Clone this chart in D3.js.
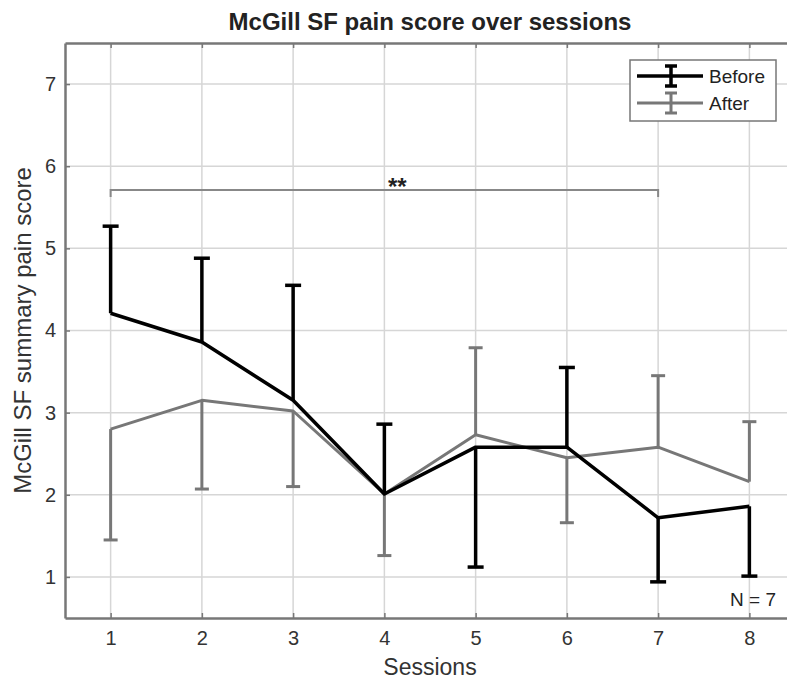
<!DOCTYPE html>
<html>
<head>
<meta charset="utf-8">
<script src="https://cdn.jsdelivr.net/npm/d3@7"></script>
<style>
  body { margin: 0; background: #fff; }
  text { font-family: "Liberation Sans", Arial, sans-serif; }
</style>
</head>
<body>
<div id="chart"></div>
<script>
// data
const sessions = [1, 2, 3, 4, 5, 6, 7, 8];
const beforeMean = [4.21, 3.86, 3.15, 2.01, 2.58, 2.58, 1.72, 1.86];
const beforeSd   = [1.06, 1.02, 1.40, 0.85, 1.46, 0.97, 0.78, 0.85];
const afterMean  = [2.80, 3.15, 3.02, 2.01, 2.73, 2.45, 2.58, 2.16];
const afterSd    = [1.35, 1.08, 0.92, 0.75, 1.06, 0.79, 0.87, 0.73];
const yTicks = [1, 2, 3, 4, 5, 6, 7];
const sigPair = [1, 7];

const width = 787;
const height = 686;
const margin = { top: 43, right: -8, bottom: 68, left: 65 };

const svg = d3.select("#chart")
  .append("svg")
  .attr("width", width)
  .attr("height", height);

const x = d3.scaleLinear().domain([0.5, 8.5]).range([margin.left, width - margin.right]);
const y = d3.scaleLinear().domain([0.5, 7.5]).range([height - margin.bottom, margin.top]);

// grid
svg.append("g")
  .selectAll("line.vg")
  .data(sessions)
  .join("line")
  .attr("x1", d => x(d)).attr("x2", d => x(d))
  .attr("y1", y(7.5)).attr("y2", y(0.5))
  .attr("stroke", "#d6d6d6").attr("stroke-width", 1.5);

svg.append("g")
  .selectAll("line.hg")
  .data(yTicks)
  .join("line")
  .attr("x1", x(0.5)).attr("x2", x(8.5))
  .attr("y1", d => y(d)).attr("y2", d => y(d))
  .attr("stroke", "#d6d6d6").attr("stroke-width", 1.5);

// axes (ticks inside, MATLAB style)
const axisColor = "#777";
const xAxis = svg.append("g")
  .attr("transform", `translate(0,${y(0.5)})`)
  .call(d3.axisBottom(x).tickValues(sessions).tickFormat(d3.format("d"))
    .tickSizeInner(-5).tickSizeOuter(0).tickPadding(13));
const xAxisTop = svg.append("g")
  .attr("transform", `translate(0,${y(7.5)})`)
  .call(d3.axisTop(x).tickValues(sessions).tickSizeInner(-5).tickSizeOuter(0).tickFormat(""));
const yAxis = svg.append("g")
  .attr("transform", `translate(${x(0.5)},0)`)
  .call(d3.axisLeft(y).tickValues(yTicks).tickFormat(d3.format("d"))
    .tickSizeInner(-5).tickSizeOuter(0).tickPadding(9));

[xAxis, xAxisTop, yAxis].forEach(g => {
  g.select(".domain").attr("stroke", axisColor).attr("stroke-width", 2.5);
  g.selectAll(".tick line").attr("stroke", axisColor).attr("stroke-width", 1.5);
  g.selectAll(".tick text").attr("fill", "#333").style("font-size", "20px");
});

// title and labels
svg.append("text")
  .attr("x", x(4.5)).attr("y", 30)
  .attr("text-anchor", "middle")
  .style("font-size", "24px").style("font-weight", "bold")
  .attr("fill", "#222")
  .text("McGill SF pain score over sessions");

svg.append("text")
  .attr("x", x(4.5)).attr("y", 675)
  .attr("text-anchor", "middle")
  .style("font-size", "23px").attr("fill", "#333")
  .text("Sessions");

svg.append("text")
  .attr("transform", `translate(31,${y(4)}) rotate(-90)`)
  .attr("text-anchor", "middle")
  .style("font-size", "24px").attr("fill", "#333")
  .text("McGill SF summary pain score");

// significance bracket
const sigY = y(5.71);
svg.append("path")
  .attr("d", `M${x(sigPair[0])},${sigY + 7}V${sigY}H${x(sigPair[1])}V${sigY + 7}`)
  .attr("fill", "none").attr("stroke", "#888").attr("stroke-width", 2);
svg.append("text")
  .attr("x", (x(sigPair[0]) + x(sigPair[1])) / 2 + 13).attr("y", sigY + 5)
  .attr("text-anchor", "middle")
  .style("font-size", "24px").style("font-weight", "bold").attr("fill", "#222")
  .text("**");

// series
const series = [
  { name: "Before", mean: beforeMean, sd: beforeSd, color: "#000", capW: 16, width: 3.5 },
  { name: "After", mean: afterMean, sd: afterSd, color: "#777", capW: 14, width: 3 }
];

// before bar points away from after bar
function barEnd(s, i) {
  const up = s.name === "Before" ? beforeMean[i] >= afterMean[i] : afterMean[i] > beforeMean[i];
  return up ? s.mean[i] + s.sd[i] : s.mean[i] - s.sd[i];
}

const line = d3.line()
  .x((d, i) => x(sessions[i]))
  .y(d => y(d));

series.slice().reverse().forEach(s => {
  const g = svg.append("g");
  g.append("path")
    .datum(s.mean)
    .attr("d", line)
    .attr("fill", "none")
    .attr("stroke", s.color)
    .attr("stroke-width", s.width)
    .attr("stroke-linejoin", "round");

  g.selectAll("line.eb")
    .data(sessions)
    .join("line")
    .attr("x1", d => x(d)).attr("x2", d => x(d))
    .attr("y1", (d, i) => y(s.mean[i]))
    .attr("y2", (d, i) => y(barEnd(s, i)))
    .attr("stroke", s.color).attr("stroke-width", s.width);

  g.selectAll("line.cap")
    .data(sessions)
    .join("line")
    .attr("x1", d => x(d) - s.capW / 2).attr("x2", d => x(d) + s.capW / 2)
    .attr("y1", (d, i) => y(barEnd(s, i)))
    .attr("y2", (d, i) => y(barEnd(s, i)))
    .attr("stroke", s.color).attr("stroke-width", s.width);
});

// legend
const legend = svg.append("g").attr("transform", "translate(630,60)");
legend.append("rect")
  .attr("width", 146).attr("height", 61)
  .attr("fill", "#fff").attr("stroke", "#777").attr("stroke-width", 1.5);

series.forEach((s, i) => {
  const ly = 16 + i * 27;
  const lg = legend.append("g").attr("transform", `translate(0,${ly})`);
  lg.append("line")
    .attr("x1", 7).attr("x2", 73).attr("y1", 0).attr("y2", 0)
    .attr("stroke", s.color).attr("stroke-width", s.width);
  lg.append("line")
    .attr("x1", 41).attr("x2", 41).attr("y1", -10).attr("y2", 10)
    .attr("stroke", s.color).attr("stroke-width", s.width);
  [-10, 10].forEach(cy => {
    lg.append("line")
      .attr("x1", 35).attr("x2", 47).attr("y1", cy).attr("y2", cy)
      .attr("stroke", s.color).attr("stroke-width", s.width);
  });
  lg.append("text")
    .attr("x", 79).attr("y", 7)
    .style("font-size", "19px").attr("fill", "#222")
    .text(s.name);
});

// sample size
svg.append("text")
  .attr("x", 776).attr("y", 606)
  .attr("text-anchor", "end")
  .style("font-size", "19px").attr("fill", "#222")
  .text("N = 7");
</script>
</body>
</html>
